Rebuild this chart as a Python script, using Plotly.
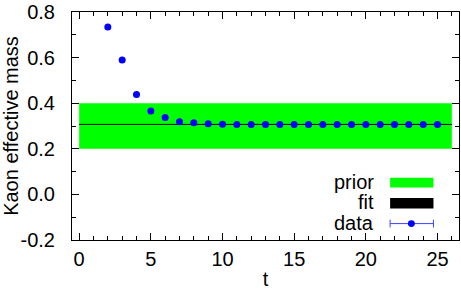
import plotly.graph_objects as go

# data
t_vals = list(range(2, 26))
m_vals = [0.734, 0.590, 0.438, 0.366, 0.337, 0.319, 0.314, 0.310, 0.308,
          0.307, 0.307, 0.307, 0.307, 0.307, 0.307, 0.307, 0.307, 0.307,
          0.307, 0.307, 0.307, 0.307, 0.307, 0.307]
m_err = [0.003] * len(t_vals)
prior_t = [0, 26]
prior_lo = 0.2
prior_hi = 0.4
fit_t = [0, 26]
fit_val = 0.307
x_ticks = [0, 5, 10, 15, 20, 25]
y_ticks = [-0.2, 0.0, 0.2, 0.4, 0.6, 0.8]
y_tick_text = ["-0.2", "0.0", "0.2", "0.4", "0.6", "0.8"]

FONT = "Liberation Sans, Arial, sans-serif"
FS = 20

fig = go.Figure()
fig.add_trace(go.Scatter(
    x=[prior_t[0], prior_t[1], prior_t[1], prior_t[0], prior_t[0]],
    y=[prior_lo, prior_lo, prior_hi, prior_hi, prior_lo],
    fill="toself", fillcolor="#00ff00", mode="none", hoverinfo="skip",
    showlegend=False))
fig.add_trace(go.Scatter(
    x=fit_t, y=[fit_val] * len(fit_t), mode="lines",
    line=dict(color="black", width=1), showlegend=False))
fig.add_trace(go.Scatter(
    x=t_vals, y=m_vals, mode="markers",
    marker=dict(color="#0000ff", size=7),
    error_y=dict(type="data", array=m_err, color="#4040ff", thickness=1, width=3),
    showlegend=False))

# manual legend (symbols to the right of labels)
lx0, lx1 = 0.822, 0.934
shapes = [
    dict(type="rect", xref="paper", yref="paper", x0=lx0, x1=lx1, y0=0.230, y1=0.273,
         fillcolor="#00ff00", line=dict(width=0)),
    dict(type="rect", xref="paper", yref="paper", x0=lx0, x1=lx1, y0=0.138, y1=0.184,
         fillcolor="black", line=dict(width=0)),
    dict(type="line", xref="paper", yref="paper", x0=lx0, x1=lx1, y0=0.072, y1=0.072,
         line=dict(color="#4040ff", width=1)),
    dict(type="line", xref="paper", yref="paper", x0=lx0, x1=lx0, y0=0.055, y1=0.089,
         line=dict(color="#4040ff", width=1)),
    dict(type="line", xref="paper", yref="paper", x0=lx1, x1=lx1, y0=0.055, y1=0.089,
         line=dict(color="#4040ff", width=1)),
    dict(type="circle", xref="paper", yref="paper", x0=0.877 - 0.009, x1=0.877 + 0.009,
         y0=0.072 - 0.015, y1=0.072 + 0.015, fillcolor="#0000ff", line=dict(width=0)),
]
labels = [("prior", 0.256), ("fit", 0.165), ("data", 0.076)]
annotations = [dict(text=txt, xref="paper", yref="paper", x=0.786, y=yy,
                    xanchor="right", yanchor="middle", showarrow=False,
                    font=dict(family=FONT, size=FS, color="black"))
               for txt, yy in labels]

axis_common = dict(showline=True, linecolor="black", linewidth=1, mirror="ticks",
                   ticks="inside", tickcolor="black", showgrid=False, zeroline=False,
                   ticklabeloverflow="allow",
                   tickfont=dict(family=FONT, size=FS, color="black"))

fig.update_layout(
    width=461, height=290, margin=dict(l=71, r=1, t=9, b=49),
    paper_bgcolor="white", plot_bgcolor="white",
    shapes=shapes, annotations=annotations,
    xaxis=dict(range=[-0.5, 26.5], tickvals=x_ticks, ticklen=7,
               minor=dict(dtick=1, ticks="inside", ticklen=4, tickcolor="black"),
               title=dict(text="t", font=dict(family=FONT, size=FS), standoff=5),
               ticklabelstandoff=1, **axis_common),
    yaxis=dict(range=[-0.2002, 0.8002], tickvals=y_ticks, ticktext=y_tick_text,
               ticklen=7,
               minor=dict(tickvals=[-0.1, 0.1, 0.3, 0.5, 0.7], ticks="inside",
                          ticklen=4, tickcolor="black"),
               title=dict(text="Kaon effective mass", font=dict(family=FONT, size=FS), standoff=6),
               ticklabelstandoff=12, **axis_common),
    font=dict(family=FONT, size=FS, color="black"),
)

fig.write_html("out.html")
